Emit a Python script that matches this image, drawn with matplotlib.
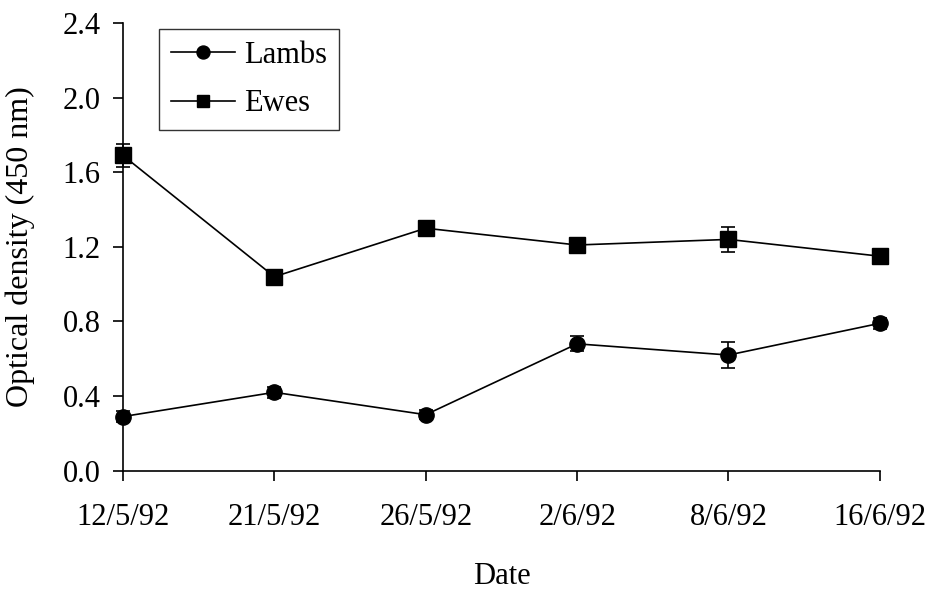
import numpy as np
import matplotlib.pyplot as plt

plt.rcParams['font.family'] = ['Liberation Serif', 'DejaVu Serif']

dates = ['12/5/92', '21/5/92', '26/5/92', '2/6/92', '8/6/92', '16/6/92']
lambs = [0.29, 0.42, 0.30, 0.68, 0.62, 0.79]
lambs_err = [0.03, 0.03, 0.025, 0.04, 0.07, 0.03]
ewes = [1.69, 1.04, 1.30, 1.21, 1.24, 1.15]
ewes_err = [0.06, 0.02, 0.02, 0.02, 0.065, 0.02]
yticks = [0.0, 0.4, 0.8, 1.2, 1.6, 2.0, 2.4]

fig = plt.figure(figsize=(9.32, 5.92), dpi=100)
ax = fig.add_axes([0.132, 0.205, 0.812, 0.756])

x = np.arange(len(dates))
ax.errorbar(x, lambs, yerr=lambs_err, color='black', marker='o', markersize=11,
            lw=1.2, capsize=5, elinewidth=1.2, capthick=1.2, label='Lambs', clip_on=False)
ax.errorbar(x, ewes, yerr=ewes_err, color='black', marker='s', markersize=11,
            lw=1.2, capsize=5, elinewidth=1.2, capthick=1.2, label='Ewes', clip_on=False)

ax.set_xlim(0, len(dates) - 1)
ax.set_ylim(0, 2.4)
ax.set_xticks(x)
ax.set_xticklabels(dates)
ax.set_yticks(yticks)
ax.set_yticklabels(['%.1f' % v for v in yticks])
ax.tick_params(direction='out', length=7, width=1.2, labelsize=22)
ax.tick_params(axis='x', pad=16)
ax.tick_params(axis='y', pad=9)
for s in ['top', 'right']:
    ax.spines[s].set_visible(False)
for s in ['left', 'bottom']:
    ax.spines[s].set_linewidth(1.2)

ax.set_xlabel('Date', fontsize=22, labelpad=22)
ax.set_ylabel('Optical density (450 nm)', fontsize=23, labelpad=20)

handles, labels = ax.get_legend_handles_labels()
handles = [h[0] for h in handles]
leg = ax.legend(handles, labels, loc='upper left', bbox_to_anchor=(0.1706, 0.951),
                bbox_transform=fig.transFigure, borderaxespad=0, markerscale=0.85,
                fontsize=22, frameon=True, fancybox=False, edgecolor='black',
                handlelength=2.1, borderpad=0.38, labelspacing=0.65, handletextpad=0.3)
leg.get_frame().set_linewidth(1.0)

fig.savefig('out.png', dpi=100)
